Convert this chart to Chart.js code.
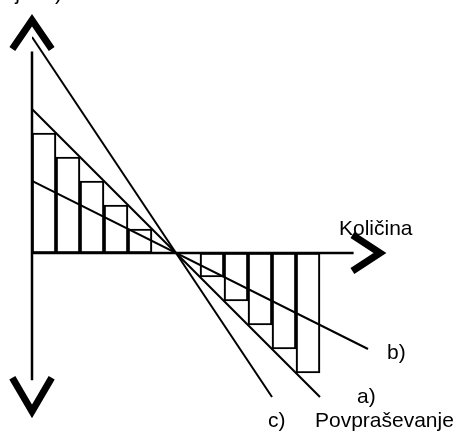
<!DOCTYPE html>
<html>
<head>
<meta charset="utf-8">
<script src="https://cdn.jsdelivr.net/npm/chart.js@4/dist/chart.umd.min.js"></script>
<style>
  html, body { margin: 0; padding: 0; background: #fff; }
  #wrap { width: 457px; height: 432px; }
</style>
</head>
<body>
<div id="wrap"><canvas id="chart" width="457" height="432"></canvas></div>
<script>
// step positions (centre of each unit) and bar heights
const steps = [0.5, 1.5, 2.5, 3.5, 4.5, 5.5, 6.5, 7.5, 8.5, 9.5, 10.5, 11.5];
const barValues = [5, 4, 3, 2, 1, 0, 0, -1, -2, -3, -4, -5];

// end points of the three demand lines
const lineA = [{ x: 0, y: 6 }, { x: 12, y: -6 }];
const lineB = [{ x: 0, y: 3 }, { x: 14, y: -4 }];
const lineC = [{ x: 0, y: 9 }, { x: 10, y: -6 }];

const axisTitleX = 'Količina';
const axisTitleY = 'Cena (ocenjena)';
const lineNames = ['a)', 'b)', 'c)'];
const curveName = 'Povpraševanje';

// text placement in axis units
const texts = [
    { t: axisTitleX, x: 12.79, y: 0.75, align: 'left' },
    { t: axisTitleY, x: 1.25, y: 10.56, align: 'right' },
    { t: lineNames[1], x: 14.79, y: -4.42, align: 'left' },
    { t: lineNames[0], x: 13.54, y: -6.25, align: 'left' },
    { t: lineNames[2], x: 9.83, y: -7.25, align: 'left' },
    { t: curveName, x: 11.79, y: -7.25, align: 'left' }
];

const decorPlugin = {
    id: 'decor',
    afterDatasetsDraw(chart) {
        const c = chart.ctx;
        const xs = chart.scales.x, ys = chart.scales.y;
        const px = v => xs.getPixelForValue(v);
        const py = v => ys.getPixelForValue(v);
        c.save();
        c.strokeStyle = '#000';
        c.lineCap = 'butt';

        // axes
        c.lineWidth = 2.5;
        c.beginPath();
        c.moveTo(px(0), py(8.4));
        c.lineTo(px(0), py(-5.3));
        c.moveTo(px(0), py(0));
        c.lineTo(px(13.4), py(0));
        c.stroke();

        // chevron arrow heads
        c.lineWidth = 7;
        c.lineJoin = 'miter';
        c.beginPath();
        c.moveTo(px(-0.82), py(8.5));
        c.lineTo(px(0), py(9.7));
        c.lineTo(px(0.82), py(8.5));
        c.stroke();
        c.beginPath();
        c.moveTo(px(-0.82), py(-5.2));
        c.lineTo(px(0), py(-6.6));
        c.lineTo(px(0.82), py(-5.2));
        c.stroke();
        c.beginPath();
        c.moveTo(px(13.35), py(0.75));
        c.lineTo(px(14.5), py(0));
        c.lineTo(px(13.35), py(-0.75));
        c.stroke();

        // labels
        c.fillStyle = '#000';
        c.font = '21px "Liberation Sans", Arial, sans-serif';
        c.textBaseline = 'alphabetic';
        texts.forEach(o => {
            c.textAlign = o.align;
            c.fillText(o.t, px(o.x), py(o.y));
        });
        c.restore();
    }
};

const lineStyle = {
    type: 'line',
    borderColor: '#000',
    borderWidth: 2,
    pointRadius: 0,
    fill: false,
    tension: 0
};

new Chart(document.getElementById('chart'), {
    type: 'bar',
    data: {
        datasets: [
            {
                data: steps.map((s, i) => ({ x: s, y: barValues[i] })),
                backgroundColor: 'rgba(0,0,0,0)',
                borderColor: '#000',
                borderWidth: 1.5,
                borderSkipped: false,
                barPercentage: 1,
                categoryPercentage: 1
            },
            Object.assign({ data: lineA }, lineStyle),
            Object.assign({ data: lineB }, lineStyle),
            Object.assign({ data: lineC }, lineStyle)
        ]
    },
    options: {
        responsive: false,
        animation: false,
        layout: { padding: { left: 32, top: 13, right: 65, bottom: 11 } },
        plugins: {
            legend: { display: false },
            tooltip: { enabled: false }
        },
        scales: {
            x: { type: 'linear', min: 0, max: 15, display: false, offset: false },
            y: { type: 'linear', min: -7, max: 10, display: false }
        }
    },
    plugins: [decorPlugin]
});
</script>
</body>
</html>
